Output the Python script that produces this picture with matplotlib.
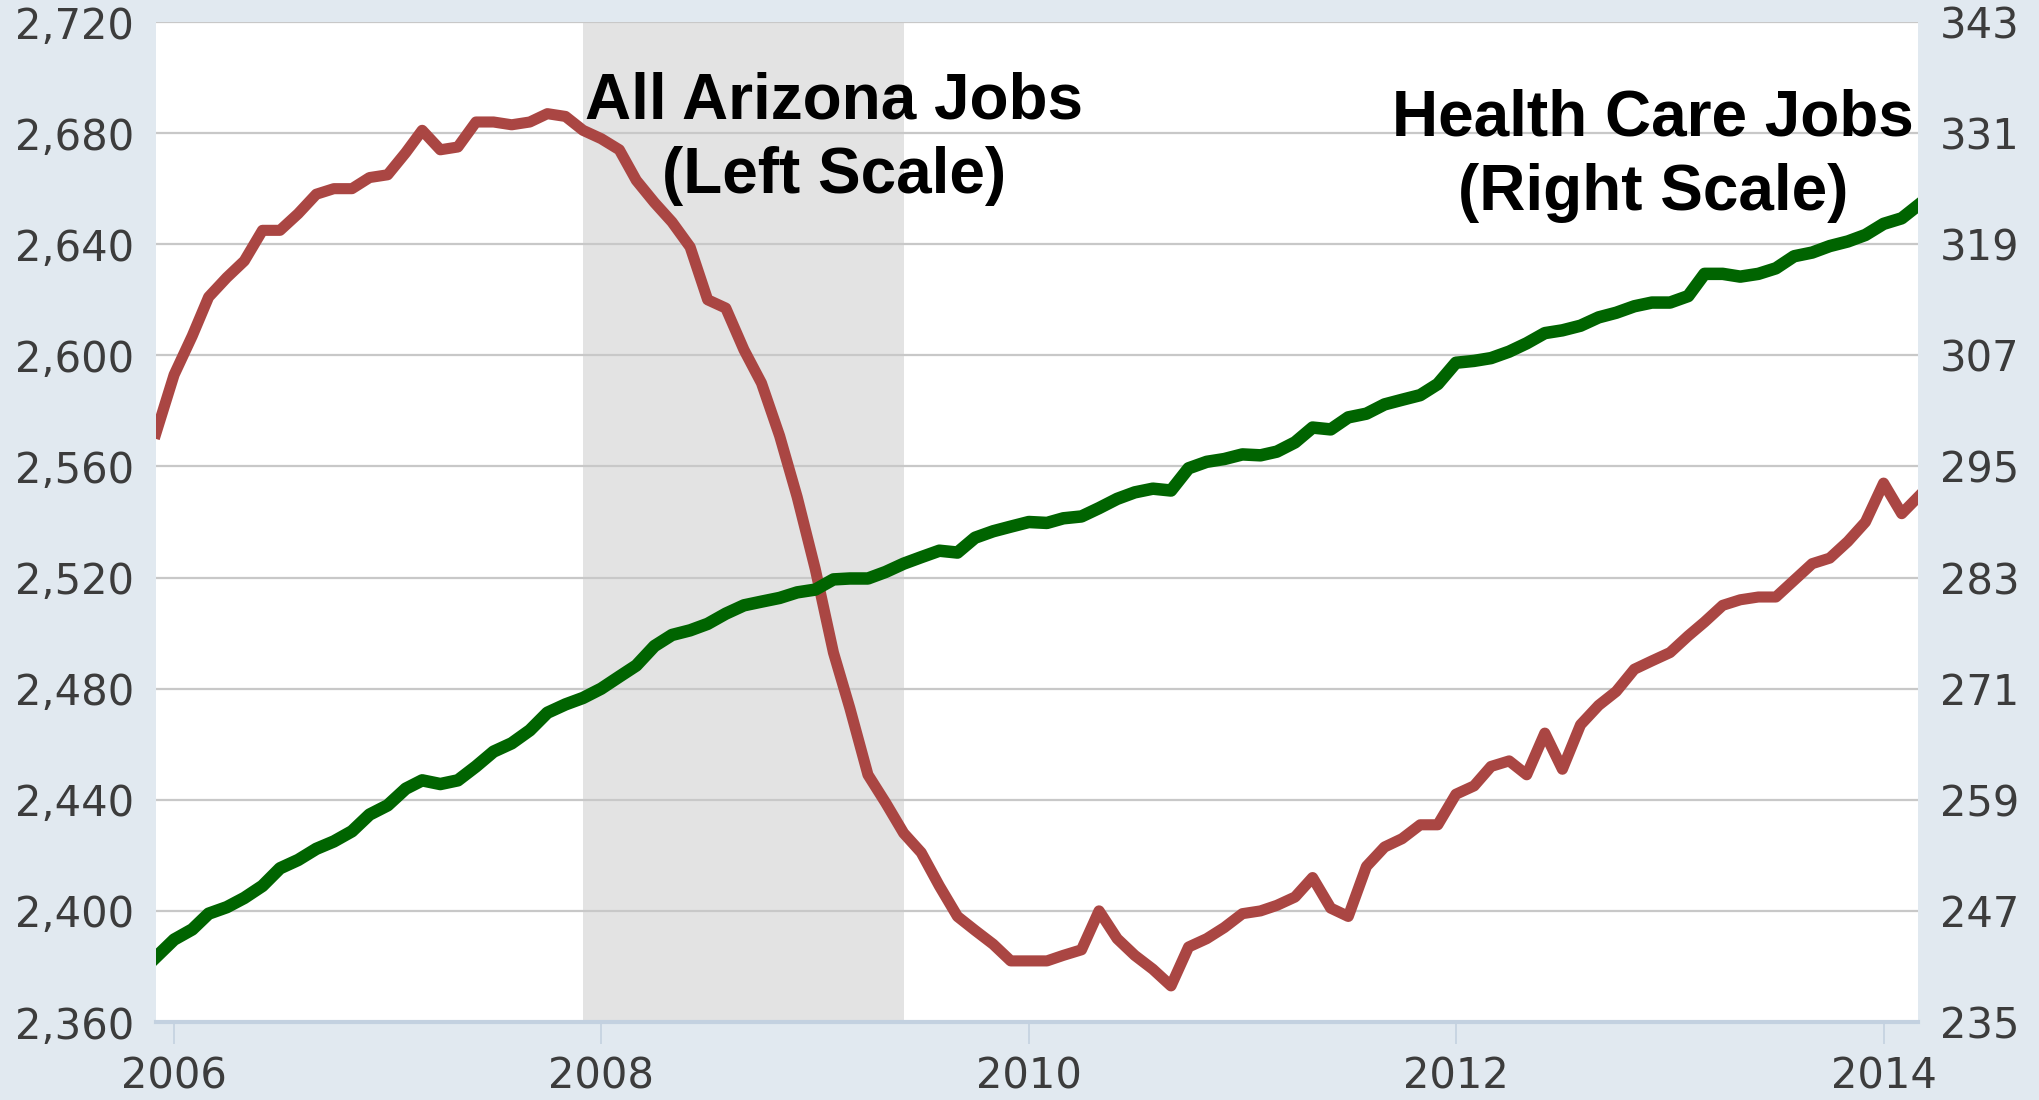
import numpy as np
import pandas as pd
import matplotlib
matplotlib.use('Agg')
import matplotlib.pyplot as plt
import matplotlib.dates as mdates
from matplotlib.ticker import FuncFormatter

# monthly data, Dec 2005 - Mar 2014 (thousands of jobs)
months = pd.date_range('2005-12-01', periods=100, freq='MS')

az_jobs = [2572, 2593, 2607, 2621, 2628, 2634, 2645, 2645, 2651, 2658,
           2660, 2660, 2664, 2665, 2673, 2681, 2674, 2675, 2684, 2684,
           2683, 2684, 2687, 2686, 2681, 2678, 2674, 2663, 2655, 2648,
           2639, 2620, 2617, 2602, 2590, 2571, 2549, 2523, 2493, 2473,
           2449, 2439, 2428, 2421, 2409, 2398, 2393, 2388, 2382, 2382,
           2382, 2384, 2386, 2400, 2390, 2384, 2379, 2373, 2387, 2390,
           2394, 2399, 2400, 2402, 2405, 2412, 2401, 2398, 2416, 2423,
           2426, 2431, 2431, 2442, 2445, 2452, 2454, 2449, 2464, 2451,
           2467, 2474, 2479, 2487, 2490, 2493, 2499, 2504, 2510, 2512,
           2513, 2513, 2519, 2525, 2527, 2533, 2540, 2554, 2543, 2549]

health_jobs = [242.0, 243.9, 245.0, 246.7, 247.4, 248.4, 249.7, 251.6, 252.5, 253.7,
               254.5, 255.6, 257.4, 258.4, 260.2, 261.1, 260.7, 261.1, 262.6, 264.2,
               265.1, 266.5, 268.4, 269.3, 270.0, 271.0, 272.3, 273.5, 275.6, 276.8,
               277.3, 278.0, 279.1, 280.0, 280.4, 280.8, 281.4, 281.7, 282.8, 282.9,
               282.9, 283.6, 284.5, 285.2, 285.9, 285.7, 287.3, 288.0, 288.5, 289.0,
               288.9, 289.4, 289.6, 290.5, 291.5, 292.2, 292.6, 292.4, 294.8, 295.5,
               295.8, 296.3, 296.2, 296.6, 297.6, 299.2, 299.0, 300.3, 300.7, 301.7,
               302.2, 302.7, 303.9, 306.2, 306.4, 306.7, 307.4, 308.3, 309.4, 309.7,
               310.2, 311.1, 311.6, 312.3, 312.7, 312.7, 313.4, 315.8, 315.8, 315.5,
               315.8, 316.4, 317.7, 318.1, 318.8, 319.3, 320.0, 321.2, 321.8, 323.2]

recession = (pd.Timestamp('2007-12-01'), pd.Timestamp('2009-06-01'))
left_ticks = list(range(2360, 2721, 40))
right_ticks = list(range(235, 344, 12))
year_ticks = [2006, 2008, 2010, 2012, 2014]

bg = '#e1e9f0'
tick_color = '#3c3c3c'

fig = plt.figure(figsize=(20.39, 11), dpi=100, facecolor=bg)
ax = fig.add_axes([0.0765, 0.0709, 0.8642, 0.9091])
ax.set_facecolor('white')

ax.axvspan(recession[0], recession[1], color='#e3e3e3', lw=0, zorder=0)
ax.plot(months, az_jobs, color='#aa4643', lw=8, zorder=3)

ax.set_ylim(2360, 2720)
ax.set_yticks(left_ticks)
ax.yaxis.set_major_formatter(FuncFormatter(lambda v, p: '{:,}'.format(int(v))))
ax.set_xlim(months[0], months[-1])
ax.set_xticks([pd.Timestamp('%d-01-01' % y) for y in year_ticks])
ax.xaxis.set_major_formatter(mdates.DateFormatter('%Y'))
ax.set_axisbelow(True)
ax.grid(axis='y', color='#c8c8c8', lw=1.6)
ax.grid(axis='x', visible=False)

for s in ['left', 'right', 'top']:
    ax.spines[s].set_visible(False)
ax.spines['bottom'].set_color('#c3d1e0')
ax.spines['bottom'].set_linewidth(3)

ax.tick_params(axis='y', length=0, pad=16, labelsize=30, labelcolor=tick_color)
ax.tick_params(axis='x', length=16, width=1.2, color='#c3d1e0', pad=8,
               labelsize=30, labelcolor=tick_color)

ax2 = ax.twinx()
ax2.plot(months, health_jobs, color='#006400', lw=9, zorder=3)
ax2.set_ylim(235, 343)
ax2.set_yticks(right_ticks)
ax2.tick_params(axis='y', length=0, pad=16, labelsize=30, labelcolor=tick_color)
for s in ax2.spines.values():
    s.set_visible(False)

ax2.text(0.385, 0.8835, 'All Arizona Jobs\n(Left Scale)', transform=ax.transAxes,
         ha='center', va='center', fontsize=46, fontweight='bold',
         family='Liberation Sans', linespacing=1.3, zorder=5)
ax2.text(0.8496, 0.8665, 'Health Care Jobs\n(Right Scale)', transform=ax.transAxes,
         ha='center', va='center', fontsize=46, fontweight='bold',
         family='Liberation Sans', linespacing=1.3, zorder=5)

fig.savefig('out.png', dpi=100, facecolor=bg)
